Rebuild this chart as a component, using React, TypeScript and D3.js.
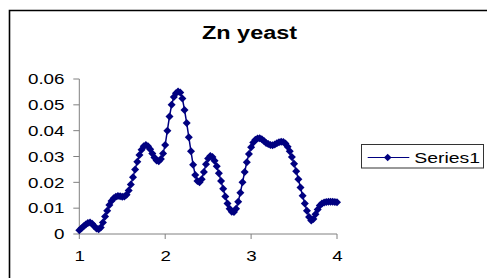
import React from 'react';
import * as d3 from 'd3';

const title = 'Zn yeast';
const seriesName = 'Series1';
const yTicks = [0, 0.01, 0.02, 0.03, 0.04, 0.05, 0.06];
const yTickLabels = ['0', '0.01', '0.02', '0.03', '0.04', '0.05', '0.06'];
const xTicks = [1, 2, 3, 4];
const xTickLabels = ['1', '2', '3', '4'];

// sampling grid: 1.000 .. 4.000 every 0.025
const xStart = 1;
const xStep = 0.025;

const yValues = [
  0.0015, 0.0022, 0.0030, 0.0037, 0.0043, 0.0045, 0.0040, 0.0030, 0.0021, 0.0018,
  0.0025, 0.0045, 0.0068, 0.0090, 0.0112, 0.0128, 0.0138, 0.0144, 0.0147, 0.0146,
  0.0144, 0.0145, 0.0152, 0.0168, 0.0192, 0.0220, 0.0250, 0.0280, 0.0306, 0.0326,
  0.0340, 0.0345, 0.0340, 0.0328, 0.0312, 0.0296, 0.0285, 0.0282, 0.0290, 0.0312,
  0.0345, 0.0400, 0.0455, 0.0500, 0.0530, 0.0545, 0.0552, 0.0548, 0.0525, 0.0480,
  0.0430, 0.0375, 0.0320, 0.0268, 0.0228, 0.0205, 0.0200, 0.0212, 0.0240, 0.0270,
  0.0292, 0.0302, 0.0298, 0.0284, 0.0262, 0.0235, 0.0205, 0.0175, 0.0145, 0.0118,
  0.0098, 0.0086, 0.0085, 0.0098, 0.0125, 0.0160, 0.0200, 0.0240, 0.0278, 0.0310,
  0.0336, 0.0354, 0.0365, 0.0370, 0.0371, 0.0367, 0.0360, 0.0352, 0.0348, 0.0345,
  0.0344, 0.0346, 0.0351, 0.0355, 0.0357, 0.0356, 0.0350, 0.0338, 0.0320, 0.0298,
  0.0272, 0.0243, 0.0212, 0.0180, 0.0148, 0.0118, 0.0090, 0.0066, 0.0052, 0.0058,
  0.0076, 0.0095, 0.0110, 0.0118, 0.0122, 0.0124, 0.0125, 0.0125, 0.0125, 0.0124,
  0.0123,
];

const points = yValues.map((v, i) => ({ x: xStart + i * xStep, y: v }));

const FONT = '"Liberation Sans", Arial, sans-serif';
const SX = 1.27; // the original text is stretched sideways
const NAVY = '#000080';
const AXIS = '#808080';

const diamond = (r: number) => `M0,${-r}L${r},0L0,${r}L${-r},0Z`;

function Label({ x, y, anchor, size, bold, children }: any) {
  return (
    <text
      transform={`translate(${x},${y}) scale(${SX},1)`}
      textAnchor={anchor}
      fontFamily={FONT}
      fontSize={size}
      fontWeight={bold ? 'bold' : 'normal'}
      fill="#000"
    >
      {children}
    </text>
  );
}

export default function App() {
  const width = 487;
  const height = 278;
  const plot = { left: 79.3, right: 337, top: 79, bottom: 234 };

  const x = d3.scaleLinear().domain([1, 4]).range([plot.left, plot.right]);
  const y = d3.scaleLinear().domain([0, 0.06]).range([plot.bottom, plot.top]);

  const line = d3.line<{ x: number; y: number }>()
    .x(d => x(d.x))
    .y(d => y(d.y));

  return (
    <svg
      width={width}
      height={height}
      style={{ position: 'absolute', left: 0, top: 0, display: 'block', background: '#fff' }}
    >
      {/* chart frame, runs off the right and bottom edges */}
      <path d={`M9.5,${height + 2}V10.5H${width + 2}`} fill="none" stroke="#000" strokeWidth={1.6} />

      <Label x={249.5} y={39.3} anchor="middle" size={18.5} bold>{title}</Label>

      {/* y axis */}
      <line x1={plot.left} x2={plot.left} y1={plot.top} y2={plot.bottom} stroke={AXIS} />
      {yTicks.map((t, i) => (
        <g key={'y' + i}>
          <line x1={plot.left - 6} x2={plot.left} y1={y(t)} y2={y(t)} stroke={AXIS} />
          <Label x={64.5} y={y(t) + 5.3} anchor="end" size={14.8}>{yTickLabels[i]}</Label>
        </g>
      ))}

      {/* x axis */}
      <line x1={plot.left} x2={plot.right} y1={plot.bottom} y2={plot.bottom} stroke={AXIS} />
      {xTicks.map((t, i) => (
        <g key={'x' + i}>
          <line x1={x(t)} x2={x(t)} y1={plot.bottom} y2={plot.bottom + 5} stroke={AXIS} />
          <Label x={x(t) + 0.5} y={260.8} anchor="middle" size={14.8}>{xTickLabels[i]}</Label>
        </g>
      ))}

      {/* series */}
      <path d={line(points) || ''} fill="none" stroke={NAVY} strokeWidth={1.5} />
      {points.map((p, i) => (
        <path key={i} d={diamond(4)} transform={`translate(${x(p.x)},${y(p.y)})`} fill={NAVY} />
      ))}

      {/* legend */}
      <rect x={361.5} y={144.5} width={122} height={23.5} fill="#fff" stroke="#333" strokeWidth={1} />
      <line x1={367.7} x2={409.3} y1={157.5} y2={157.5} stroke={NAVY} />
      <path d={diamond(3.8)} transform="translate(387.7,157.5)" fill={NAVY} />
      <Label x={414.3} y={162.8} anchor="start" size={15.3}>{seriesName}</Label>
    </svg>
  );
}
